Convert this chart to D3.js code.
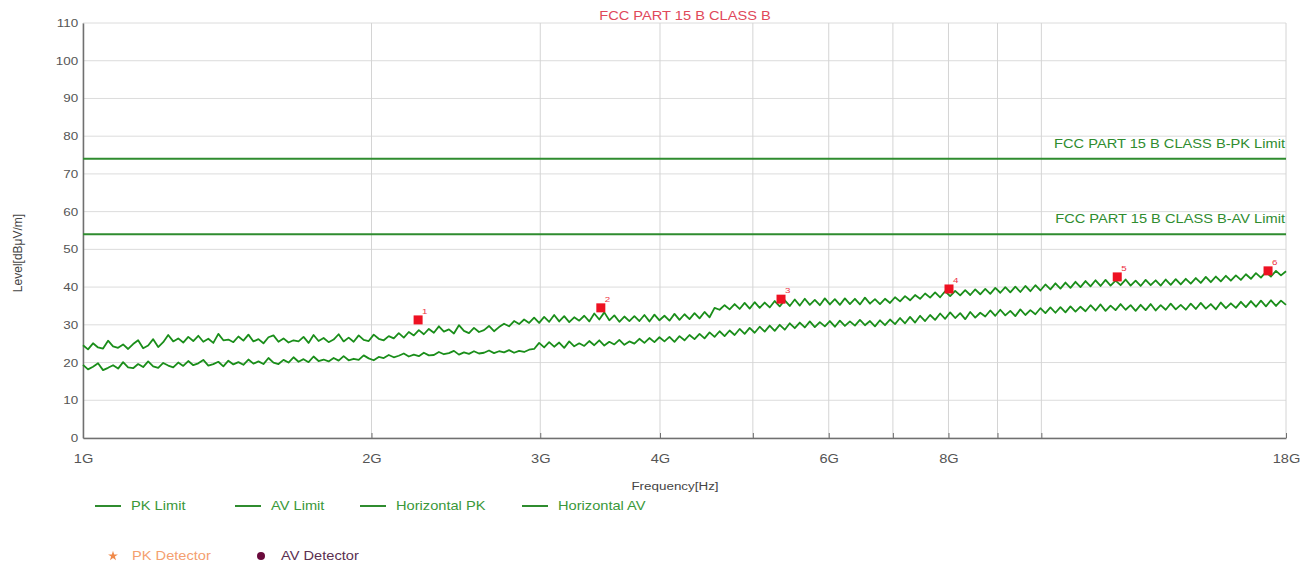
<!DOCTYPE html>
<html>
<head>
<meta charset="utf-8">
<script src="https://cdn.jsdelivr.net/npm/d3@7"></script>
<style>
  body { margin: 0; background: #fff; }
  text { font-family: Arial, "Liberation Sans", sans-serif; }
</style>
</head>
<body>
<div class="svg-container"></div>
<script>
// ---- data ----
var title = "FCC PART 15 B CLASS B";
var pk_limit = 74, av_limit = 54;
var y_ticks = [0, 10, 20, 30, 40, 50, 60, 70, 80, 90, 100, 110];
var x_grid = [1e9, 2e9, 3e9, 4e9, 5e9, 6e9, 7e9, 8e9, 9e9, 10e9, 18e9];
var x_labels = [1e9, 2e9, 3e9, 4e9, 6e9, 8e9, 18e9];

// sweep: 241 points, log spaced from 1G to 18G
var f_start = 1e9, f_stop = 18e9;

// Horizontal PK trace (dBuV/m)
var horiz_pk = [
  24.6, 23.5, 25.1, 24.0, 23.7, 25.8, 24.3, 23.9, 24.8, 23.6,
  24.9, 25.9, 23.8, 24.5, 26.2, 24.1, 25.4, 27.3, 25.6, 26.4,
  25.3, 26.8, 25.7, 27.1, 25.5, 26.3, 25.2, 27.6, 25.9, 26.1,
  25.4, 26.9, 25.8, 27.4, 25.6, 26.2, 25.1, 26.7, 27.2, 25.5,
  26.4, 25.3, 25.9, 25.6, 26.8, 25.2, 27.3, 25.7, 26.5, 25.4,
  26.1, 27.5, 25.6, 26.6, 25.5, 27.2, 26.0, 25.7, 27.4, 26.3,
  25.9, 27.0, 26.4, 27.8, 26.6, 28.1, 27.2, 28.6, 27.5, 28.9,
  27.9, 29.6, 28.2, 28.8, 27.7, 29.9, 28.4, 27.8, 29.2, 28.1,
  28.6, 29.7, 28.3, 29.4, 30.3, 29.6, 31.0, 30.2, 31.4, 30.5,
  31.9, 30.5, 32.1, 30.8, 32.6, 30.9, 32.3, 30.7, 32.0, 31.1,
  32.4, 30.9, 33.0, 31.4, 33.3, 31.2, 32.5, 30.8, 32.2, 31.0,
  32.3, 31.0, 32.6, 30.9, 32.7, 31.2, 32.4, 31.1, 32.9, 31.3,
  32.8, 31.5, 33.1, 31.7, 33.4, 32.0, 34.5, 34.0, 35.2, 34.1,
  35.5, 34.2, 35.8, 34.3, 36.0, 34.5, 35.9, 34.6, 36.3, 34.9,
  36.5, 35.0, 36.7, 35.1, 36.9, 35.3, 36.6, 35.2, 37.0, 35.4,
  36.8, 35.3, 37.0, 35.5, 36.9, 35.4, 37.2, 35.6, 36.8, 35.5,
  36.9, 35.8, 37.3, 36.2, 37.6, 36.5, 37.9, 36.9, 38.3, 37.2,
  38.6, 37.3, 38.9, 37.6, 39.0, 37.8, 39.2, 37.9, 39.4, 38.1,
  39.5, 38.2, 39.8, 38.5, 40.0, 38.6, 40.1, 38.7, 40.3, 38.9,
  40.5, 39.1, 40.7, 39.4, 41.0, 39.6, 41.2, 39.8, 41.4, 40.0,
  41.6, 40.2, 41.8, 40.3, 41.9, 40.4, 41.7, 40.5, 42.0, 40.4,
  41.7, 40.3, 41.9, 40.5, 41.8, 40.4, 42.0, 40.6, 42.1, 40.7,
  42.2, 40.9, 42.4, 41.1, 42.7, 41.3, 42.8, 41.5, 43.0, 41.7,
  43.1, 41.9, 43.4, 42.2, 43.7, 42.5, 44.0, 42.8, 44.3, 43.1,
  44.2
];

// Horizontal AV trace (dBuV/m)
var horiz_av = [
  19.4, 18.2, 18.9, 19.8, 18.0, 18.6, 19.3, 18.4, 20.1, 18.7,
  18.5, 19.6, 18.8, 20.3, 19.0, 18.6, 19.9, 19.2, 18.7, 20.0,
  19.1, 20.4, 19.3, 19.8, 20.7, 19.2, 19.6, 20.2, 19.0, 20.5,
  19.5, 20.1, 19.4, 20.8, 19.7, 20.3, 19.6, 21.2, 20.0, 19.6,
  20.7, 20.0, 21.4, 20.2, 20.9, 20.1, 21.6, 20.4, 20.8, 20.3,
  21.2, 20.5, 21.7, 20.6, 21.0, 20.7, 21.9, 21.1, 20.6, 21.5,
  21.2, 22.0, 21.4, 21.8, 22.4, 21.6, 22.1, 21.7, 22.6, 21.9,
  22.0, 22.8, 22.2, 22.5, 23.1, 22.1, 22.7, 22.3, 23.0, 22.4,
  22.6, 23.2, 22.5, 23.0, 22.7, 23.3, 22.6, 23.1, 22.8, 23.4,
  23.6, 25.2, 24.0, 25.4, 24.2, 25.3, 23.9, 25.6, 24.3, 25.1,
  24.4, 25.7, 24.6, 25.9, 24.5, 25.5, 24.8, 26.0, 24.7, 25.6,
  25.0, 26.3, 25.2, 26.5, 25.4, 26.7, 25.6, 26.8, 25.5, 27.0,
  25.9, 27.3, 26.2, 27.6, 26.4, 28.0, 26.8, 28.3, 27.0, 28.5,
  27.3, 28.9, 27.6, 29.2, 27.9, 29.5, 28.2, 29.8, 28.4, 30.0,
  28.7, 30.4, 29.1, 30.6, 29.3, 30.9, 29.4, 30.7, 29.6, 31.0,
  29.5, 31.1, 29.7, 30.9, 29.8, 31.3, 29.9, 31.0, 29.6, 31.2,
  29.9, 31.4, 30.2, 31.8, 30.4, 32.1, 30.6, 32.4, 31.0, 32.6,
  31.3, 33.0, 31.6, 33.3, 31.8, 33.1, 31.5, 33.4, 31.9, 33.2,
  32.2, 33.8, 32.4, 34.0, 32.5, 33.7, 32.3, 34.1, 32.6, 33.9,
  32.8, 34.4, 33.1, 34.6, 33.2, 34.7, 33.3, 34.9, 33.5, 34.8,
  33.6, 35.2, 33.8, 35.4, 33.7, 35.1, 33.9, 35.5, 34.0, 35.2,
  33.7, 35.3, 33.9, 35.5, 33.8, 35.2, 34.0, 35.6, 34.1, 35.3,
  34.0, 35.6, 34.2, 35.8, 34.3, 35.5, 34.1, 35.9, 34.4, 35.7,
  34.5, 36.1, 34.7, 36.3, 34.8, 36.4, 34.9, 36.5, 35.0, 36.4,
  35.3
];

// PK detector markers
var marker_freq  = [2.237e9, 3.47e9, 5.35e9, 8.01e9, 12.0e9, 17.24e9];
var marker_level = [31.3, 34.5, 36.8, 39.5, 42.7, 44.3];

var legend_lines = ["PK Limit", "AV Limit", "Horizontal PK", "Horizontal AV"];

// ---- layout ----
var fullWidth = 1312, fullHeight = 567;
var plot = {left: 83, right: 1286, top: 23, bottom: 438};
var green = "#2f8c2f", trace_green = "#1a8e1a";
var sx = 1.22; // the source picture is stretched sideways, so is its text

var svg = d3.select(".svg-container")
    .append("svg")
    .attr("width", fullWidth)
    .attr("height", fullHeight);

// place a text stretched like the source
function put_text(px, py, str, size, fill, anchor) {
    return svg.append("text")
	.attr("transform", "translate(" + px + "," + py + ") scale(" + sx + ",1)")
	.attr("text-anchor", anchor || "start")
	.attr("fill", fill).attr("font-size", size)
	.text(str);
}

var x = d3.scaleLog().domain([f_start, f_stop]).range([plot.left, plot.right]);
var y = d3.scaleLinear().domain([0, 110]).range([plot.bottom, plot.top]);

var n_pts = horiz_pk.length;
var sweep = d3.range(n_pts).map(i => f_start * Math.pow(f_stop / f_start, i / (n_pts - 1)));

// grid
svg.append("g").selectAll("line")
    .data(y_ticks)
    .enter().append("line")
    .attr("x1", plot.left).attr("x2", plot.right)
    .attr("y1", d => y(d)).attr("y2", d => y(d))
    .attr("stroke", "#dcdcdc").attr("stroke-width", 1);

svg.append("g").selectAll("line")
    .data(x_grid)
    .enter().append("line")
    .attr("x1", d => x(d)).attr("x2", d => x(d))
    .attr("y1", plot.top).attr("y2", plot.bottom)
    .attr("stroke", "#d4d4d4").attr("stroke-width", 1);

// y axis
var yAxis = d3.axisLeft(y).tickValues(y_ticks).tickSize(0).tickPadding(4);
var gy = svg.append("g")
    .attr("transform", "translate(" + plot.left + ",0)")
    .call(yAxis);
gy.select(".domain").attr("stroke", "#707070").attr("stroke-width", 1.5);
gy.selectAll("text")
    .attr("fill", "#555").attr("font-size", 11)
    .attr("transform", "scale(" + sx + ",1)");

// x axis (ticks point into plot)
var xAxis = d3.axisBottom(x).tickValues(x_grid).tickSizeInner(-5).tickSizeOuter(0)
    .tickPadding(16)
    .tickFormat(d => x_labels.indexOf(d) >= 0 ? (d / 1e9) + "G" : "");
var gx = svg.append("g")
    .attr("transform", "translate(0," + plot.bottom + ")")
    .call(xAxis);
gx.select(".domain").attr("stroke", "#707070").attr("stroke-width", 1.5);
gx.selectAll(".tick line").attr("stroke", "#707070");
gx.selectAll("text")
    .attr("fill", "#555").attr("font-size", 12)
    .attr("transform", "scale(" + sx + ",1)");

// limit lines
[pk_limit, av_limit].forEach(function(v, k) {
    svg.append("line")
	.attr("x1", plot.left).attr("x2", plot.right)
	.attr("y1", y(v)).attr("y2", y(v))
	.attr("stroke", green).attr("stroke-width", 2);
    put_text(plot.right - 1, y(v) - 11, title + (k == 0 ? "-PK Limit" : "-AV Limit"),
	     12, green, "end");
});

// traces
var line = d3.line()
    .x((d, i) => x(sweep[i]))
    .y(d => y(d));

[horiz_av, horiz_pk].forEach(function(series) {
    svg.append("path")
	.datum(series)
	.attr("d", line)
	.attr("fill", "none")
	.attr("stroke", trace_green)
	.attr("stroke-width", 1.8)
	.attr("stroke-linejoin", "round");
});

// markers
var markers = marker_freq.map((f, i) => ({f: f, v: marker_level[i], n: i + 1}));
svg.append("g").selectAll("rect")
    .data(markers)
    .enter().append("rect")
    .attr("x", d => x(d.f) - 4.5)
    .attr("y", d => y(d.v) - 4.5)
    .attr("width", 9).attr("height", 9)
    .attr("fill", "#ee1122");
markers.forEach(d => put_text(x(d.f) + 4, y(d.v) - 6, d.n, 8, "#ee3344"));

// title and axis titles
put_text(685, 20, title, 12, "#e0485a", "middle");
put_text(675, 490, "Frequency[Hz]", 11, "#444", "middle");

svg.append("text")
    .attr("transform", "translate(22,253) rotate(-90)")
    .attr("text-anchor", "middle")
    .attr("fill", "#444").attr("font-size", 12)
    .text("Level[dBμV/m]");

// legend row 1
var leg_x = [95, 235, 360, 522];
legend_lines.forEach(function(name, i) {
    svg.append("line")
	.attr("x1", leg_x[i]).attr("x2", leg_x[i] + 26)
	.attr("y1", 506).attr("y2", 506)
	.attr("stroke", green).attr("stroke-width", 2);
    put_text(leg_x[i] + 36, 510, name, 12, "#3a983a");
});

// legend row 2
svg.append("path")
    .attr("d", d3.symbol().type(d3.symbolStar).size(30)())
    .attr("transform", "translate(113,556)")
    .attr("fill", "#f08a4a");
put_text(132, 560, "PK Detector", 12, "#f4a070");
svg.append("circle")
    .attr("cx", 261).attr("cy", 556).attr("r", 4)
    .attr("fill", "#6a0a3c");
put_text(281, 560, "AV Detector", 12, "#5a3050");
</script>
</body>
</html>
